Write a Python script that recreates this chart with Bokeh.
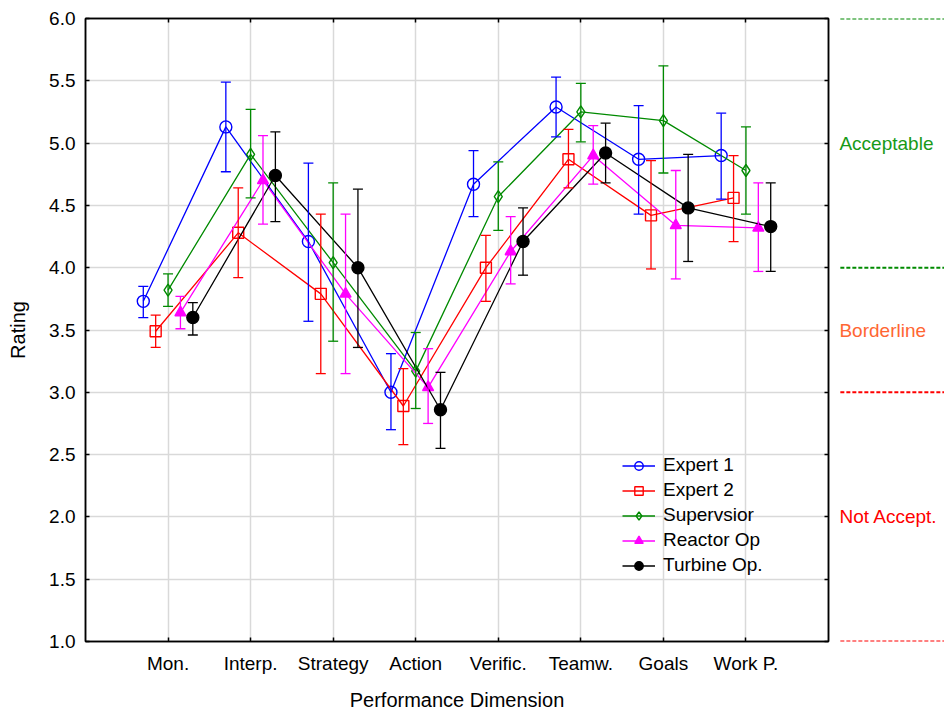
from bokeh.plotting import figure
from bokeh.models import (ColumnDataSource, Whisker, TeeHead, FixedTicker,
                          NumeralTickFormatter, LinearAxis, Legend, LegendItem, Range1d)
from bokeh.layouts import row
from bokeh.embed import file_html
from bokeh.resources import INLINE
from bokeh.core.properties import value

# ---------------- data ----------------
categories = ["Mon.", "Interp.", "Strategy", "Action", "Verific.", "Teamw.", "Goals", "Work P."]
series_names = ["Expert 1", "Expert 2", "Supervsior", "Reactor Op", "Turbine Op."]
series_offsets = [-0.3, -0.15, 0.0, 0.15, 0.3]

expert1_mean = [3.73, 5.13, 4.21, 3.00, 4.67, 5.29, 4.87, 4.90]
expert1_low = [3.60, 4.77, 3.57, 2.70, 4.41, 5.05, 4.43, 4.55]
expert1_high = [3.85, 5.49, 4.84, 3.31, 4.94, 5.53, 5.30, 5.24]

expert2_mean = [3.49, 4.28, 3.79, 2.89, 4.00, 4.87, 4.42, 4.56]
expert2_low = [3.36, 3.92, 3.15, 2.58, 3.73, 4.64, 3.99, 4.21]
expert2_high = [3.62, 4.64, 4.43, 3.19, 4.26, 5.11, 4.86, 4.90]

supervisor_mean = [3.82, 4.91, 4.04, 3.17, 4.57, 5.25, 5.18, 4.78]
supervisor_low = [3.69, 4.56, 3.41, 2.87, 4.30, 5.01, 4.76, 4.43]
supervisor_high = [3.95, 5.27, 4.68, 3.48, 4.85, 5.48, 5.62, 5.13]

reactor_mean = [3.64, 4.70, 3.79, 3.04, 4.13, 4.90, 4.34, 4.32]
reactor_low = [3.51, 4.35, 3.15, 2.75, 3.87, 4.67, 3.91, 3.97]
reactor_high = [3.77, 5.06, 4.43, 3.35, 4.41, 5.14, 4.78, 4.68]

turbine_mean = [3.60, 4.74, 4.00, 2.86, 4.21, 4.92, 4.48, 4.33]
turbine_low = [3.46, 4.37, 3.36, 2.55, 3.94, 4.68, 4.05, 3.97]
turbine_high = [3.72, 5.09, 4.63, 3.16, 4.48, 5.16, 4.91, 4.68]

y_ticks = [1.0, 1.5, 2.0, 2.5, 3.0, 3.5, 4.0, 4.5, 5.0, 5.5, 6.0]

thresholds = [6.0, 4.0, 3.0, 1.0]
threshold_colors = ["#008A00", "#008A00", "#FF0000", "#FF0000"]
zone_labels = ["Acceptable", "Borderline", "Not Accept."]
zone_values = [5.0, 3.5, 2.0]
zone_colors = ["#179A17", "#FF6633", "#FF0000"]

# ---------------- styles ----------------
FONT = "Liberation Sans"
styles = [
    dict(color="#0000FF", marker="circle", fill=False, size=12),
    dict(color="#FF0000", marker="square", fill=False, size=11),
    dict(color="#008A00", marker="diamond", fill=False, size=12),
    dict(color="#FF00FF", marker="triangle", fill=True, size=11),
    dict(color="#000000", marker="circle", fill=True, size=12),
]
all_data = [
    (expert1_mean, expert1_low, expert1_high),
    (expert2_mean, expert2_low, expert2_high),
    (supervisor_mean, supervisor_low, supervisor_high),
    (reactor_mean, reactor_low, reactor_high),
    (turbine_mean, turbine_low, turbine_high),
]

cat_pos = [i + 1 for i in range(len(categories))]

H = 713
TOP = 18
BOTTOM = 72

p = figure(width=832, height=H, x_range=Range1d(0, len(categories) + 1), y_range=Range1d(1, 6),
           output_backend="svg", toolbar_location=None,
           min_border_left=85, min_border_right=4, min_border_top=TOP, min_border_bottom=BOTTOM,
           outline_line_color="black", outline_line_width=1.5)
p.background_fill_color = "white"

xax = p.xaxis[0]
xax.ticker = FixedTicker(ticks=cat_pos)
xax.major_label_overrides = {pos: name for pos, name in zip(cat_pos, categories)}
xax.major_label_text_font = FONT
xax.major_label_text_font_size = "19px"
xax.major_label_standoff = 11
xax.major_tick_in = 4
xax.major_tick_out = 0
xax.minor_tick_line_color = None
xax.axis_label = "Performance Dimension"
xax.axis_label_text_font = FONT
xax.axis_label_text_font_size = "20px"
xax.axis_label_text_font_style = "normal"
xax.axis_label_standoff = 12
xax.axis_line_width = 1.5
xax.major_tick_line_width = 1.5
xax.major_label_text_color = "black"
xax.axis_label_text_color = "black"

yax = p.yaxis[0]
yax.ticker = FixedTicker(ticks=y_ticks)
yax.formatter = NumeralTickFormatter(format="0.0")
yax.major_label_text_font = FONT
yax.major_label_text_font_size = "19px"
yax.major_label_standoff = 10
yax.major_tick_in = 4
yax.major_tick_out = 0
yax.minor_tick_line_color = None
yax.axis_label = "Rating"
yax.axis_label_text_font = FONT
yax.axis_label_text_font_size = "20px"
yax.axis_label_text_font_style = "normal"
yax.axis_label_standoff = 17
yax.axis_line_width = 1.5
yax.major_tick_line_width = 1.5
yax.major_label_text_color = "black"
yax.axis_label_text_color = "black"

def tick_only_axis(ticks):
    return LinearAxis(ticker=FixedTicker(ticks=ticks), major_label_text_font_size="0px",
                      major_label_text_color=None, major_label_text_alpha=0,
                      major_label_standoff=0, major_tick_in=4, major_tick_out=0,
                      minor_tick_line_color=None, axis_line_width=1.5, major_tick_line_width=1.5)

p.add_layout(tick_only_axis(cat_pos), "above")
p.add_layout(tick_only_axis(y_ticks), "right")

p.xgrid.ticker = FixedTicker(ticks=cat_pos)
p.ygrid.ticker = FixedTicker(ticks=y_ticks)
for g in (p.xgrid[0], p.ygrid[0]):
    g.grid_line_color = "#d9d9d9"
    g.grid_line_width = 1.5

# series
legend_items = []
for name, off, st, (mean, lo, hi) in zip(series_names, series_offsets, styles, all_data):
    xs = [c + off for c in cat_pos]
    src = ColumnDataSource(dict(x=xs, y=mean, lo=lo, hi=hi))
    lr = p.line("x", "y", source=src, line_color=st["color"], line_width=1.3)
    w = Whisker(base="x", upper="hi", lower="lo", source=src, level="glyph",
                line_color=st["color"], line_width=1.3,
                upper_head=TeeHead(size=10, line_color=st["color"], line_width=1.3),
                lower_head=TeeHead(size=10, line_color=st["color"], line_width=1.3))
    p.add_layout(w)
    sr = p.scatter("x", "y", source=src, marker=st["marker"], size=st["size"],
                   line_color=st["color"], line_width=1.4,
                   fill_color=st["color"], fill_alpha=1.0 if st["fill"] else 0.0)
    legend_items.append(LegendItem(label=name, renderers=[lr, sr]))

legend = Legend(items=legend_items, location=(537, 65), padding=0, margin=0, spacing=3,
                glyph_height=21, glyph_width=33, label_height=21, label_standoff=8,
                label_text_font=FONT, label_text_font_size="19px", label_text_color="black",
                background_fill_alpha=0, border_line_alpha=0)
p.add_layout(legend)

# ---------------- right annotation panel ----------------
p2 = figure(width=112, height=H, x_range=Range1d(0, 1), y_range=p.y_range,
            output_backend="svg", toolbar_location=None,
            min_border_left=0, min_border_right=0, min_border_top=TOP, min_border_bottom=BOTTOM,
            outline_line_color=None)
p2.grid.visible = False
p2.axis.visible = False

p2.segment(x0=[0.07] * len(thresholds), x1=[1.0] * len(thresholds),
           y0=thresholds, y1=thresholds, line_color=threshold_colors,
           line_width=2, line_dash="4 2")
p2.text(x=[0.062] * len(zone_values), y=zone_values, text=zone_labels,
        text_color=zone_colors, text_baseline="middle", text_align="left",
        text_font=value(FONT), text_font_size="19px")

layout = row(p, p2)
open("out.html", "w").write(file_html(layout, INLINE))
